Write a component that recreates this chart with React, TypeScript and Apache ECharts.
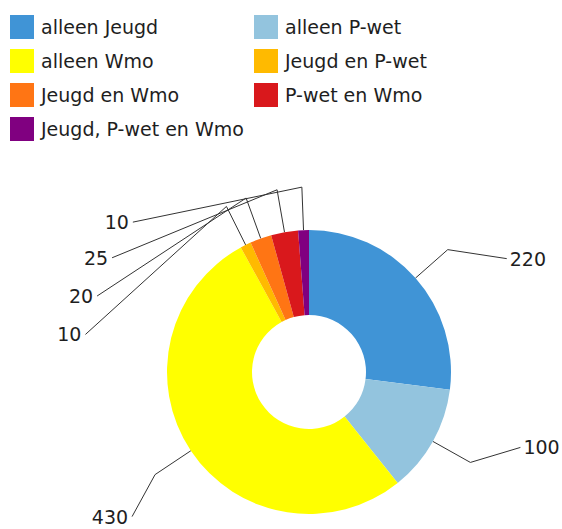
import React, { useEffect, useRef } from "react";
import * as echarts from "echarts";

const categories = [
  "alleen Jeugd",
  "alleen P-wet",
  "alleen Wmo",
  "Jeugd en P-wet",
  "Jeugd en Wmo",
  "P-wet en Wmo",
  "Jeugd, P-wet en Wmo",
];
const values = [220, 100, 430, 10, 20, 25, 10];
const colors = ["#4094D6", "#93C4DE", "#FFFF00", "#FFBA00", "#FF7514", "#D9181C", "#800080"];

// label end offsets relative to the elbow of each label line (layout only)
const labelOffsets: number[][] = [
  [59, 9],
  [50, -15],
  [-23, 42],
  [-141, 128],
  [-149, 98],
  [-165, 68],
  [-169, 35],
];

const leftLegend = [categories[0], categories[2], categories[4], categories[6]];
const rightLegend = [categories[1], categories[3], categories[5]];

const FONT = "DejaVu Sans";

export default function App() {
  const ref = useRef<HTMLDivElement>(null);
  useEffect(() => {
    if (!ref.current) return;
    const chart = echarts.init(ref.current, undefined, { renderer: "svg" });
    const legendCommon = {
      orient: "vertical" as const,
      top: 15,
      padding: 0,
      itemWidth: 24,
      itemHeight: 24,
      itemGap: 10,
      icon: "rect",
      selectedMode: false,
      textStyle: { fontFamily: FONT, fontSize: 19, color: "#1e1e1e", padding: [0, 0, 0, 2] },
    };
    chart.setOption({
      animation: false,
      color: colors,
      legend: [
        { ...legendCommon, left: 10, data: leftLegend },
        { ...legendCommon, left: 254, data: rightLegend },
      ],
      series: [
        {
          type: "pie",
          center: [309, 372],
          radius: [57, 142],
          startAngle: 90,
          clockwise: true,
          avoidLabelOverlap: false,
          data: categories.map((name, i) => ({ name, value: values[i] })),
          label: {
            show: true,
            position: "outside",
            formatter: "{c}",
            fontFamily: FONT,
            fontSize: 19,
            color: "#1e1e1e",
          },
          labelLine: {
            show: true,
            length: 43,
            length2: 10,
            minTurnAngle: 0,
            lineStyle: { color: "#333", width: 1 },
          },
          emphasis: { disabled: true },
          labelLayout: (params: any) => {
            const pts = params.labelLinePoints;
            if (!pts) return {};
            const off = labelOffsets[params.dataIndex];
            const elbow = pts[1];
            const end = [elbow[0] + off[0], elbow[1] + off[1]];
            const left = off[0] < 0;
            return {
              x: end[0] + (left ? -4 : 3),
              y: end[1],
              align: left ? "right" : "left",
              verticalAlign: "middle",
              labelLinePoints: [pts[0], elbow, end],
            };
          },
        },
      ],
    });
    return () => chart.dispose();
  }, []);
  return (
    <div
      ref={ref}
      style={{ position: "absolute", left: 0, top: 0, width: 562, height: 529 }}
    />
  );
}
